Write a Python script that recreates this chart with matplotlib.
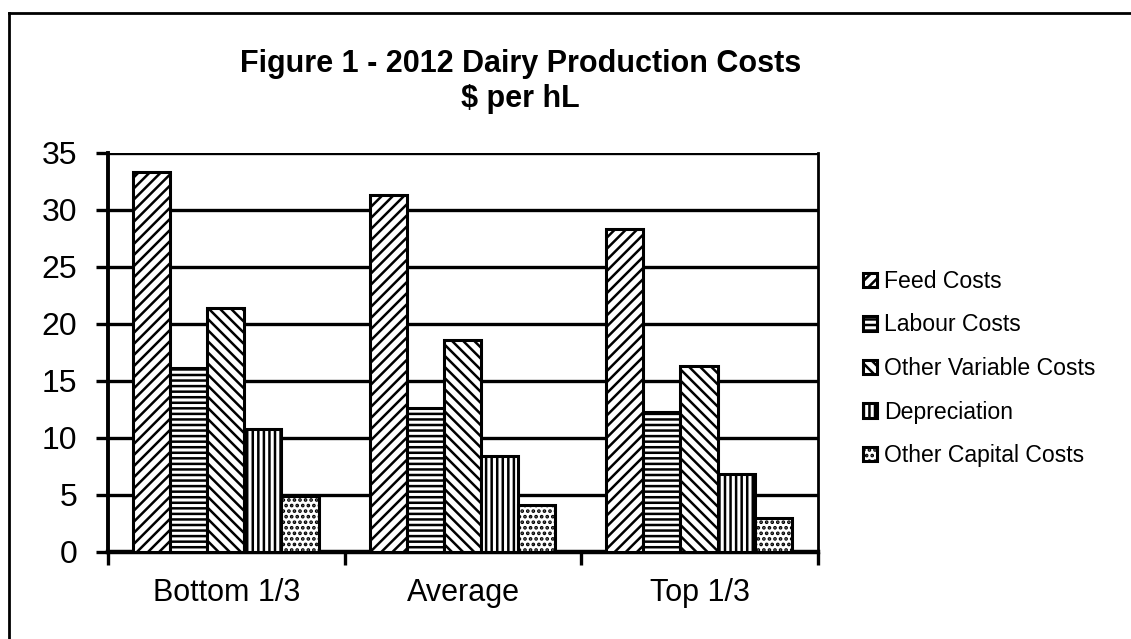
import matplotlib
matplotlib.use("Agg")
import matplotlib.pyplot as plt
import numpy as np
from matplotlib.lines import Line2D

# Data ($ per hL)
groups = ["Bottom 1/3", "Average", "Top 1/3"]
series = ["Feed Costs", "Labour Costs", "Other Variable Costs", "Depreciation", "Other Capital Costs"]
feed = [33.3, 31.3, 28.3]
labour = [16.1, 12.6, 12.3]
other_variable = [21.4, 18.6, 16.3]
depreciation = [10.8, 8.4, 6.8]
other_capital = [4.9, 4.1, 3.0]
values = [feed, labour, other_variable, depreciation, other_capital]
hatches = ["///", "---", "\\\\\\", "|||", "..."]

plt.rcParams["font.family"] = ["Liberation Sans", "DejaVu Sans"]
plt.rcParams["hatch.linewidth"] = 1.8
plt.rcParams["hatch.color"] = "black"

fig = plt.figure(figsize=(11.31, 6.39), dpi=100)
ax = fig.add_axes([0.0955, 0.1362, 0.6277, 0.6244])

x = np.arange(len(groups))
bar_w = 0.157
start = -0.395
for i, (name, vals) in enumerate(zip(series, values)):
    ax.bar(x + start + bar_w * (i + 0.5), vals, width=bar_w, color="white",
           edgecolor="black", linewidth=2.2, hatch=hatches[i], label=name, zorder=3)

ax.set_xlim(-0.5, 2.5)
ax.set_ylim(0, 35)
ax.set_yticks(range(0, 36, 5))
ax.yaxis.grid(True, color="black", linewidth=2.4)
ax.set_axisbelow(True)

ax.set_xticks(x)
ax.set_xticklabels(groups, fontsize=22)
ax.tick_params(axis="x", which="major", length=0, pad=19)
ax.set_xticks([-0.5, 0.5, 1.5, 2.5], minor=True)
ax.tick_params(axis="x", which="minor", direction="out", length=9, width=2.4)
ax.tick_params(axis="y", direction="out", length=9, width=2.4, labelsize=23, pad=13)

ax.spines["top"].set_visible(False)
ax.spines["left"].set_linewidth(2.8)
ax.spines["bottom"].set_linewidth(3.2)
ax.spines["right"].set_linewidth(2.0)

fig.text(0.46, 0.872, "Figure 1 - 2012 Dairy Production Costs\n$ per hL", ha="center", va="center",
         fontsize=22, fontweight="bold", linespacing=1.2)

fig.legend(loc="upper left", bbox_to_anchor=(0.745, 0.61), frameon=False, fontsize=16.6,
           handlelength=0.6, handleheight=0.6, handletextpad=0.3, labelspacing=0.89)

# outer frame
fig.add_artist(Line2D([9 / 1131, 1], [1 - 13 / 639, 1 - 13 / 639], transform=fig.transFigure, color="black", linewidth=2))
fig.add_artist(Line2D([9 / 1131, 9 / 1131], [0, 1 - 13 / 639], transform=fig.transFigure, color="black", linewidth=2))

fig.savefig("out.png", dpi=100)
